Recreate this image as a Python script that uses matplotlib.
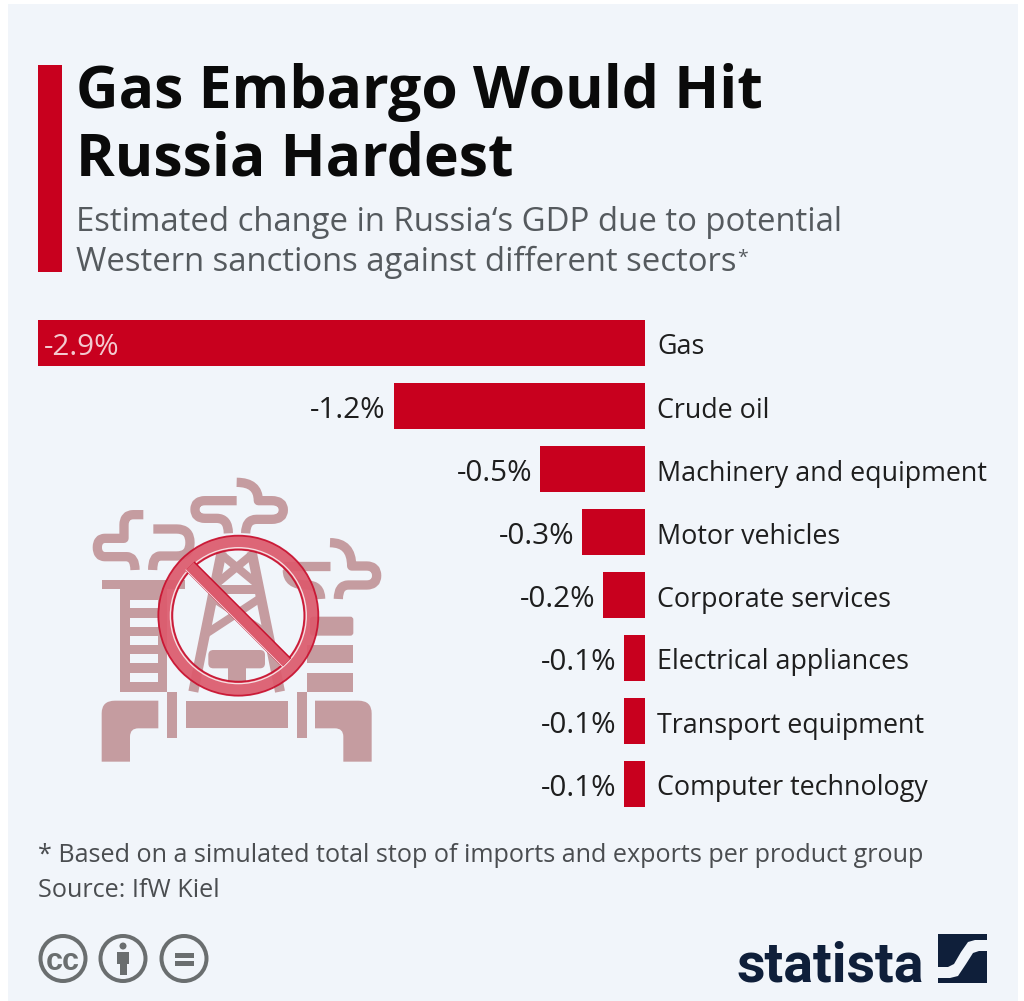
'''
Gas embargo chart, statista style
'''

import matplotlib
matplotlib.use("Agg")
import matplotlib.pyplot as plt
from matplotlib.patches import Rectangle, Circle, FancyBboxPatch, PathPatch, Wedge
from matplotlib.path import Path

W, H = 1024, 1001
BG = "#f1f5fa"
RED = "#c8001e"
ICON = "#c59ca0"
NAVY = "#0f1f3a"
GREY = "#6a6e6f"

sectors = ["Gas", "Crude oil", "Machinery and equipment", "Motor vehicles",
           "Corporate services", "Electrical appliances", "Transport equipment",
           "Computer technology"]
change = [-2.9, -1.2, -0.5, -0.3, -0.2, -0.1, -0.1, -0.1]

title_lines = ["Gas Embargo Would Hit", "Russia Hardest"]
subtitle_lines = ["Estimated change in Russia\u2018s GDP due to potential",
                  "Western sanctions against different sectors"]
note_lines = ["* Based on a simulated total stop of imports and exports per product group",
              "Source: IfW Kiel"]

plt.rcParams["font.family"] = ["Open Sans", "DejaVu Sans"]

fig = plt.figure(figsize=(W / 100, H / 100), dpi=100, facecolor="white")

# full figure axes in pixel coords for everything that isnt a bar
bg = fig.add_axes([0, 0, 1, 1])
bg.set_xlim(0, W)
bg.set_ylim(H, 0)
bg.axis("off")
bg.add_patch(Rectangle((8, 4), 1010, 997, fc=BG, ec="none"))
bg.add_patch(Rectangle((38, 65), 24, 207, fc=RED, ec="none"))


def px(size):
    return size * 72 / 100


for txt, y in zip(title_lines, [108, 175]):
    bg.text(76, y, txt, fontsize=42.4, fontweight="bold", color="#0a0a0a", va="baseline")
for txt, y in zip(subtitle_lines, [231, 271]):
    bg.text(76, y, txt, fontsize=23.7, color="#555a5e", va="baseline")
bg.text(737, 263, "*", fontsize=14, color="#555a5e", va="baseline")
for txt, y in zip(note_lines, [862, 897]):
    bg.text(38, y, txt, fontsize=18.1, color="#4a4d50", va="baseline")


# icon
def z(x, y):
    return (80 + x / 3, 470 + y / 3)


def stroke(points, codes, lw=9.3, color=ICON, ax=bg):
    path = Path([z(*p) for p in points], codes)
    ax.add_patch(PathPatch(path, fc="none", ec=color, lw=px(lw), capstyle="butt", joinstyle="round"))


def box(x0, y0, x1, y1, color=ICON, round_px=0):
    a = z(x0, y0)
    b = z(x1, y1)
    if round_px:
        bg.add_patch(FancyBboxPatch((a[0] + round_px, a[1] + round_px),
                                    b[0] - a[0] - 2 * round_px, b[1] - a[1] - 2 * round_px,
                                    boxstyle="round,pad=%f" % round_px, fc=color, ec="none"))
    else:
        bg.add_patch(Rectangle(a, b[0] - a[0], b[1] - a[1], fc=color, ec="none"))


M, L, C = Path.MOVETO, Path.LINETO, Path.CURVE3

# smoke
stroke([(190, 134), (160, 134), (132, 134), (132, 165), (132, 205), (75, 205), (52, 205), (52, 232), (52, 260),
        (75, 260), (140, 260), (165, 260), (165, 300)],
       [M, L, C, C, L, L, C, C, C, C, L, C, C])
stroke([(220, 177), (290, 177), (330, 177), (330, 218), (330, 258), (290, 258), (240, 258), (218, 258), (218, 300)],
       [M, L, C, C, C, C, L, C, C])
stroke([(470, 92), (375, 92), (345, 92), (345, 118), (345, 145), (375, 145), (410, 145), (445, 145), (445, 190)],
       [M, L, C, C, C, C, L, C, C])
stroke([(470, 37), (535, 37), (535, 92), (575, 92), (610, 92), (610, 120), (610, 148), (575, 148), (530, 148),
        (497, 148), (497, 190)],
       [M, C, C, L, C, C, C, C, L, C, C])
stroke([(750, 218), (815, 218), (815, 288), (860, 288), (890, 288), (890, 317), (890, 345), (860, 345), (805, 345),
        (775, 345), (775, 387)],
       [M, C, C, L, C, C, C, C, L, C, C])
stroke([(610, 287), (750, 287)], [M, L])
stroke([(622, 300), (622, 345), (680, 345), (722, 345), (722, 387)], [M, C, C, C, C])

# left stack
box(65, 330, 315, 358)
box(120, 358, 150, 665)
box(235, 358, 262, 665)
box(120, 637, 262, 665)
box(150, 358, 235, 390)
for y0 in [415, 470, 525, 580]:
    box(150, y0, 235, y0 + 28)

# derrick
stroke([(340, 665), (425, 245)], [M, L], lw=10)
stroke([(600, 665), (515, 245)], [M, L], lw=10)
stroke([(420, 250), (535, 345)], [M, L], lw=8)
stroke([(520, 250), (405, 345)], [M, L], lw=8)
stroke([(395, 358), (545, 358)], [M, L], lw=9)
stroke([(380, 490), (540, 385)], [M, L], lw=8)
stroke([(560, 490), (400, 385)], [M, L], lw=8)
box(385, 540, 555, 595, round_px=5)
box(445, 595, 497, 640)

# right stack
box(690, 440, 820, 497, round_px=3)
box(680, 525, 820, 580)
box(680, 610, 820, 665)

# pipes
box(260, 665, 290, 805)
box(650, 665, 680, 805)
box(317, 692, 625, 775)
for flip in [False, True]:
    pts = [(65, 875), (65, 730), (65, 692), (105, 692), (235, 692), (235, 775), (175, 775), (150, 775), (150, 800),
           (150, 875), (65, 875)]
    codes = [M, L, C, C, L, L, L, C, C, L, L]
    if flip:
        pts = [(940 - x, y) for x, y in pts]
    bg.add_patch(PathPatch(Path([z(*p) for p in pts], codes), fc=ICON, ec="none"))

# no entry sign over the icon
cx, cy = z(475, 437)
bg.add_patch(Wedge((cx, cy), 80, 0, 360, width=14, fc="#dc5a6c", ec="#c8102e", lw=1.3, alpha=0.92))
bg.add_patch(Circle((cx, cy), 68, fc="none", ec="white", lw=0.9, alpha=0.8))
diag = [z(330, 288), z(620, 578)]
bg.plot([diag[0][0], diag[1][0]], [diag[0][1], diag[1][1]], color="#c8102e", lw=px(13), solid_capstyle="butt")
bg.plot([diag[0][0], diag[1][0]], [diag[0][1], diag[1][1]], color="#dc5a6c", lw=px(10), solid_capstyle="butt")
bg.plot([diag[0][0] - 4, diag[1][0] - 4], [diag[0][1] + 4, diag[1][1] + 4], color="white", lw=0.8, alpha=0.8)

# bars on their own axes, pixel box chosen so x=-2.9 hits 38 and x=0 hits 645
left, right, top, bottom = 38, 645, 311.5, 815.5
ax = fig.add_axes([left / W, 1 - bottom / H, (right - left) / W, (bottom - top) / H])
ax.patch.set_alpha(0)
ax.barh(range(len(sectors)), change, height=46 / 63, color=RED)
ax.set_xlim(-2.9, 0)
ax.set_ylim(7.5, -0.5)
ax.axis("off")

for i, (name, val) in enumerate(zip(sectors, change)):
    ax.annotate(name, (0, i), xytext=(px(12), px(-1)), textcoords="offset points", va="center_baseline",
                fontsize=19.4, color="#1e1e1e", annotation_clip=False)
    label = "%.1f%%" % val
    if i == 0:
        ax.annotate(label, (val, i), xytext=(px(6), px(-1)), textcoords="offset points", va="center_baseline",
                    fontsize=21.3, color="#f3c9cf", annotation_clip=False)
    else:
        ax.annotate(label, (val, i), xytext=(px(-8), px(-1)), textcoords="offset points", va="center_baseline",
                    ha="right", fontsize=21.3, color="#1e1e1e", annotation_clip=False)

# creative commons badges
for x in [63, 123, 184]:
    bg.add_patch(Circle((x, 958.5), 22.5, fc="none", ec=GREY, lw=px(4)))
bg.text(63, 959, "cc", family="Liberation Sans", fontsize=22, fontweight="bold", color=GREY, ha="center",
        va="center_baseline")
bg.add_patch(Circle((123, 946), 3.5, fc=GREY, ec="none"))
bg.add_patch(Rectangle((117, 952), 12, 12, fc=GREY, ec="none"))
bg.add_patch(Rectangle((120, 964), 6.5, 11, fc=GREY, ec="none"))
bg.add_patch(Rectangle((175, 953), 19, 5, fc=GREY, ec="none"))
bg.add_patch(Rectangle((175, 961), 19, 5, fc=GREY, ec="none"))

# statista logo
bg.text(737, 982, "statista", family=["Roboto", "DejaVu Sans"], fontsize=40, fontweight="bold",
        color=NAVY, va="baseline")
upper = [(938, 934), (987, 934), (987, 940), (975, 940), (968, 942), (961, 952), (954, 964), (948, 967), (938, 967),
         (938, 934)]
lower = [(987, 951), (987, 983), (938, 983), (938, 978), (950, 978), (958, 976), (966, 964), (973, 953), (979, 951),
         (987, 951)]
bg.fill(*zip(*upper), color=NAVY, lw=0)
bg.fill(*zip(*lower), color=NAVY, lw=0)

fig.savefig("out.png", dpi=100, facecolor="white")
